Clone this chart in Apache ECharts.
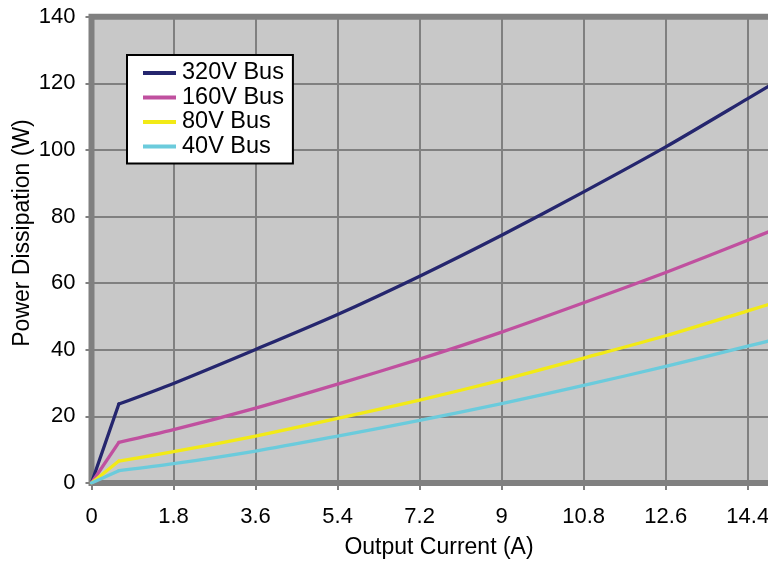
<!DOCTYPE html>
<html>
<head>
<meta charset="utf-8">
<script src="https://cdn.jsdelivr.net/npm/echarts@6/dist/echarts.min.js"></script>
<style>
html,body{margin:0;padding:0;background:#fff;overflow:hidden;width:768px;height:561px;}
#c{width:820px;height:561px;}
</style>
</head>
<body>
<div id="c"></div>
<script>
// Data (output current in A, dissipation in W)
const xCurrent = [0, 0.6, 1.8, 3.6, 5.4, 7.2, 9, 10.8, 12.6, 14.4, 15];
const bus320 = [0, 23.7, 29.9, 40.1, 50.6, 62.1, 74.4, 87.4, 100.9, 115.4, 120.3];
const bus160 = [0, 12.2, 16.0, 22.5, 29.7, 37.2, 45.3, 54.1, 63.2, 72.9, 76.2];
const bus80  = [0, 6.6, 9.4, 14.1, 19.4, 24.9, 30.9, 37.5, 44.2, 51.7, 54.2];
const bus40  = [0, 3.7, 5.8, 9.6, 14.1, 18.8, 23.8, 29.3, 35.0, 41.1, 43.1];
const kneeIndex = 1; // sharp corner at 0.6 A, smooth curve after it
const seriesNames = ['320V Bus', '160V Bus', '80V Bus', '40V Bus'];
const xTickLabels = ['0', '1.8', '3.6', '5.4', '7.2', '9', '10.8', '12.6', '14.4'];
const yTickLabels = ['0', '20', '40', '60', '80', '100', '120', '140'];
const xTitle = 'Output Current (A)';
const yTitle = 'Power Dissipation (W)';

const colors = ['#25266e', '#c0509f', '#f2ea16', '#6bcbdc'];
const allSeries = [bus320, bus160, bus80, bus40];
const FONT = '"Liberation Sans", Arial, sans-serif';

const series = [];
allSeries.forEach((arr, k) => {
  const pts = xCurrent.map((x, i) => [x, arr[i]]);
  series.push({
    name: seriesNames[k], type: 'line', symbol: 'none', showSymbol: false, z: 2 + k,
    lineStyle: {width: 3.3, color: colors[k], cap: 'round', join: 'round'},
    itemStyle: {color: colors[k]},
    data: pts.slice(0, kneeIndex + 1)
  });
  series.push({
    name: seriesNames[k], type: 'line', symbol: 'none', showSymbol: false, smooth: 0.25, z: 2 + k,
    lineStyle: {width: 3.3, color: colors[k], cap: 'round', join: 'round'},
    itemStyle: {color: colors[k]},
    data: pts.slice(kneeIndex)
  });
});

const chart = echarts.init(document.getElementById('c'), null, {renderer: 'canvas'});
chart.setOption({
  animation: false,
  color: colors,
  textStyle: {fontFamily: FONT},
  grid: {
    left: 91.5, top: 16.7, width: 695, height: 466.3,
    show: true, backgroundColor: '#c8c8c8', borderColor: '#808080', borderWidth: 6
  },
  legend: {
    orient: 'vertical', left: 127, top: 55,
    backgroundColor: '#ffffff', borderColor: '#000000', borderWidth: 2, borderRadius: 0,
    padding: [6, 9, 5, 16], itemGap: 0.5,
    itemWidth: 33, itemHeight: 4, icon: 'rect',
    textStyle: {fontSize: 23.5, color: '#000', fontFamily: FONT, lineHeight: 22, padding: [0,0,0,1]},
    data: seriesNames
  },
  xAxis: {
    type: 'value', min: 0, max: 15.25, interval: 1.8,
    axisLine: {show: false},
    axisTick: {show: true, length: 7, lineStyle: {color: '#808080', width: 2}},
    splitLine: {show: true, lineStyle: {color: '#808080', width: 2}},
    axisLabel: {
      showMaxLabel: false, margin: 23, fontSize: 22, color: '#000', fontFamily: FONT,
      formatter: function (v) { const i = Math.round(v / 1.8); return xTickLabels[i] !== undefined && Math.abs(v - i*1.8) < 1e-6 ? xTickLabels[i] : ''; }
    }
  },
  yAxis: {
    type: 'value', min: 0, max: 140, interval: 20,
    axisLine: {show: false},
    axisTick: {show: true, length: 6, lineStyle: {color: '#808080', width: 2}},
    splitLine: {show: true, lineStyle: {color: '#808080', width: 2}},
    axisLabel: {
      margin: 16, fontSize: 22, color: '#000', fontFamily: FONT,
      formatter: function (v) { return yTickLabels[Math.round(v / 20)]; }
    }
  },
  graphic: [
    {type: 'text', x: 439, y: 548, style: {text: xTitle, fontSize: 23, fontFamily: FONT, fill: '#000', align: 'center', verticalAlign: 'middle'}},
    {type: 'text', x: 23, y: 233, rotation: Math.PI / 2, style: {text: yTitle, fontSize: 23, fontFamily: FONT, fill: '#000', align: 'center', verticalAlign: 'middle'}}
  ],
  series: series
});
</script>
</body>
</html>
